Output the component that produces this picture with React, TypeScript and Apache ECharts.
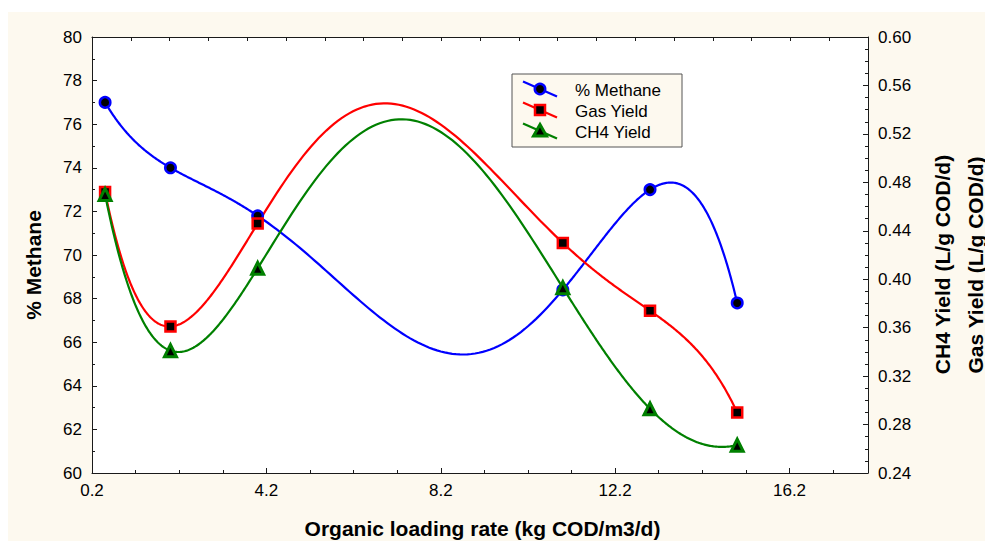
import React, { useEffect, useRef } from "react";
import * as echarts from "echarts";

// ---- data ----
const loadingRate = [0.5, 2, 4, 11, 13, 15];
const methanePct = [77.0, 74.0, 71.8, 68.4, 73.0, 67.8];
const gasYield = [0.472, 0.361, 0.446, 0.43, 0.374, 0.29];
const ch4Yield = [0.47, 0.341, 0.409, 0.393, 0.293, 0.263];

const xMajorTicks = [0.2, 4.2, 8.2, 12.2, 16.2];
const xMinorTicks = [1.2, 2.2, 3.2, 5.2, 6.2, 7.2, 9.2, 10.2, 11.2, 13.2, 14.2, 15.2, 17.2];

const seriesNames = ["% Methane", "Gas Yield", "CH4 Yield"];
const seriesColors = ["#0000ff", "#ff0000", "#008000"];
const xTitle = "Organic loading rate (kg COD/m3/d)";
const leftTitle = "% Methane";
const rightTitles = ["CH4 Yield (L/g COD/d)", "Gas Yield (L/g COD/d)"];

const FONT = '"Liberation Sans", Arial, Helvetica, sans-serif';
const CREAM = "#fdf9ef";
const AXIS_COLOR = "#1a1a1a";

// interpolating curve through all data points (Lagrange form), evaluated for drawing
function fitCurve(xs: number[], ys: number[]) {
  return (x: number) => {
    let s = 0;
    for (let j = 0; j < xs.length; j++) {
      let l = 1;
      for (let k = 0; k < xs.length; k++) {
        if (k !== j) l *= (x - xs[k]) / (xs[j] - xs[k]);
      }
      s += ys[j] * l;
    }
    return s;
  };
}

function curveSeries(name: string, ys: number[], color: string, yAxisIndex: number) {
  const f = fitCurve(loadingRate, ys);
  return {
    type: "custom",
    name: name + " curve",
    xAxisIndex: 0,
    yAxisIndex,
    data: loadingRate.map((x, i) => [x, ys[i]]),
    encode: { x: 0, y: 1 },
    z: 2,
    silent: true,
    renderItem: (params: any, api: any) => {
      const i = params.dataIndex;
      if (i >= loadingRate.length - 1) return { type: "group", children: [] };
      const x0 = loadingRate[i];
      const x1 = loadingRate[i + 1];
      const pts: number[][] = [];
      const steps = 80;
      for (let k = 0; k <= steps; k++) {
        const x = x0 + ((x1 - x0) * k) / steps;
        pts.push(api.coord([x, f(x)]));
      }
      return {
        type: "polyline",
        shape: { points: pts },
        style: { stroke: color, lineWidth: 2.2, fill: "none" },
      };
    },
  };
}

function markerSeries(
  name: string,
  ys: number[],
  color: string,
  yAxisIndex: number,
  symbol: string,
  size: number,
  border: number,
  z: number
) {
  return {
    type: "scatter",
    name,
    xAxisIndex: 0,
    yAxisIndex,
    data: loadingRate.map((x, i) => [x, ys[i]]),
    symbol,
    symbolSize: size,
    itemStyle: { color: "#000", borderColor: color, borderWidth: border, opacity: 1 },
    z,
    silent: true,
  };
}

function legendGraphics() {
  const x0 = 504, y0 = 62, w = 170, hgt = 73;
  const rows = [77, 98, 119];
  const els: any[] = [
    {
      type: "rect",
      shape: { x: x0, y: y0, width: w, height: hgt },
      style: { fill: CREAM, stroke: "#555", lineWidth: 1 },
      z: 20,
    },
  ];
  rows.forEach((cy, i) => {
    const color = seriesColors[i];
    const cx = 532;
    els.push({
      type: "line",
      shape: { x1: cx - 17, y1: cy - 7.5, x2: cx + 17, y2: cy + 7.5 },
      style: { stroke: color, lineWidth: 2.2 },
      z: 21,
    });
    if (i === 0) {
      els.push({
        type: "circle",
        shape: { cx, cy, r: 5.2 },
        style: { fill: "#000", stroke: color, lineWidth: 2.5 },
        z: 22,
      });
    } else if (i === 1) {
      els.push({
        type: "rect",
        shape: { x: cx - 5, y: cy - 5, width: 10, height: 10 },
        style: { fill: "#000", stroke: color, lineWidth: 2.5 },
        z: 22,
      });
    } else {
      els.push({
        type: "polygon",
        shape: { points: [[cx, cy - 6.5], [cx + 6.5, cy + 5], [cx - 6.5, cy + 5]] },
        style: { fill: "#000", stroke: color, lineWidth: 3, lineJoin: "miter" },
        z: 22,
      });
    }
    els.push({
      type: "text",
      x: 567,
      y: cy + 1,
      style: {
        text: seriesNames[i],
        font: `17px ${FONT}`,
        fill: "#000",
        align: "left",
        verticalAlign: "middle",
      },
      z: 22,
    });
  });
  return els;
}

function titleGraphics() {
  const font = `bold 21px ${FONT}`;
  const base = { fill: "#000", align: "center", verticalAlign: "middle", font };
  return [
    { type: "text", x: 474.5, y: 516, style: { ...base, text: xTitle }, z: 20 },
    {
      type: "text",
      x: 25,
      y: 253,
      rotation: Math.PI / 2,
      style: { ...base, text: leftTitle, lineHeight: 17 },
      z: 20,
    },
    {
      type: "text",
      x: 934.5,
      y: 252.5,
      rotation: Math.PI / 2,
      style: { ...base, text: rightTitles[0], lineHeight: 17 },
      z: 20,
    },
    {
      type: "text",
      x: 967,
      y: 253,
      rotation: Math.PI / 2,
      style: { ...base, text: rightTitles[1], lineHeight: 17 },
      z: 20,
    },
  ];
}

export default function App() {
  const ref = useRef<HTMLDivElement | null>(null);

  useEffect(() => {
    if (!ref.current) return;
    const chart = echarts.init(ref.current, undefined, { renderer: "svg" });
    const lineStyle = { color: AXIS_COLOR, width: 1 };
    const labelStyle = { fontSize: 17, color: "#000", fontFamily: FONT };

    const option: any = {
      animation: false,
      backgroundColor: CREAM,
      textStyle: { fontFamily: FONT },
      grid: {
        left: 84,
        top: 25,
        width: 776,
        height: 436,
        show: true,
        backgroundColor: "#ffffff",
        borderWidth: 0,
        containLabel: false,
        outerBoundsMode: "none",
      },
      xAxis: [
        {
          type: "value",
          position: "bottom",
          min: 0.2,
          max: 18,
          axisLine: { show: true, onZero: false, lineStyle },
          axisTick: { show: true, inside: true, length: 5, customValues: xMajorTicks, lineStyle },
          axisLabel: {
            show: true,
            customValues: xMajorTicks,
            formatter: (v: number) => v.toFixed(1),
            margin: 9,
            ...labelStyle,
          },
          splitLine: { show: false },
        },
        {
          type: "value",
          position: "bottom",
          min: 0.2,
          max: 18,
          axisLine: { show: false, onZero: false },
          axisTick: { show: true, inside: true, length: 3, customValues: xMinorTicks, lineStyle },
          axisLabel: { show: false },
          splitLine: { show: false },
        },
        {
          type: "value",
          position: "top",
          min: 0,
          max: 20,
          interval: 1,
          axisLine: { show: true, onZero: false, lineStyle },
          axisTick: { show: true, inside: true, length: 4, lineStyle },
          axisLabel: { show: false },
          splitLine: { show: false },
        },
      ],
      yAxis: [
        {
          type: "value",
          position: "left",
          min: 60,
          max: 80,
          interval: 2,
          axisLine: { show: true, onZero: false, lineStyle },
          axisTick: { show: true, inside: true, length: 5, lineStyle },
          minorTick: { show: true, splitNumber: 2, length: 3, lineStyle },
          axisLabel: { margin: 10, ...labelStyle },
          splitLine: { show: false },
          minorSplitLine: { show: false },
        },
        {
          type: "value",
          position: "right",
          min: 0.24,
          max: 0.6,
          interval: 0.04,
          axisLine: { show: true, onZero: false, lineStyle },
          axisTick: { show: true, inside: true, length: 5, lineStyle },
          minorTick: { show: true, splitNumber: 4, length: 3, lineStyle },
          axisLabel: { margin: 10, formatter: (v: number) => v.toFixed(2), ...labelStyle },
          splitLine: { show: false },
          minorSplitLine: { show: false },
        },
      ],
      series: [
        curveSeries(seriesNames[0], methanePct, seriesColors[0], 0),
        curveSeries(seriesNames[1], gasYield, seriesColors[1], 1),
        curveSeries(seriesNames[2], ch4Yield, seriesColors[2], 1),
        markerSeries(seriesNames[0], methanePct, seriesColors[0], 0, "circle", 10.5, 2.5, 3),
        markerSeries(seriesNames[1], gasYield, seriesColors[1], 1, "rect", 10, 2.5, 4),
        markerSeries(seriesNames[2], ch4Yield, seriesColors[2], 1, "triangle", 12, 3, 5),
      ],
      graphic: [...legendGraphics(), ...titleGraphics()],
    };
    chart.setOption(option);
    return () => chart.dispose();
  }, []);

  return (
    <div
      ref={ref}
      style={{ position: "fixed", left: 8, top: 12, width: 977, height: 529, background: "#fff" }}
    />
  );
}
